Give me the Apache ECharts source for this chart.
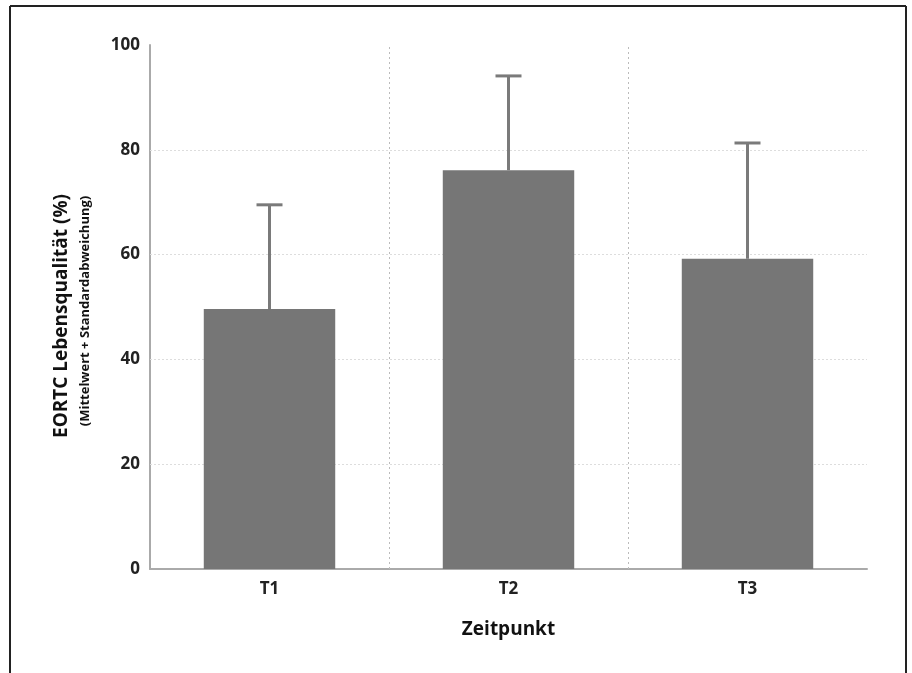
<!DOCTYPE html>
<html><head><meta charset="utf-8">
<script src="https://cdn.jsdelivr.net/npm/echarts@6/dist/echarts.min.js"></script>
<style>html,body{margin:0;padding:0;background:#fff;}#c{width:912px;height:673px;}</style>
</head><body><div id="c"></div>
<script>
var categories = ['T1', 'T2', 'T3'];
var means = [49.6, 76.1, 59.2];
var sdUpper = [69.5, 94.1, 81.3];
var yTicks = [0, 20, 40, 60, 80, 100];
var gridValues = [20, 40, 60, 80];
var separators = [1, 2];

var chart = echarts.init(document.getElementById('c'));
var FONT = '"Open Sans", "Noto Sans", sans-serif';
chart.setOption({
  animation: false,
  backgroundColor: '#fff',
  grid: {left: 150, right: 45, top: 45, bottom: 104},
  xAxis: [{
    type: 'category', data: categories,
    axisLine: {lineStyle: {color: '#aaa', width: 2}},
    axisTick: {show: false},
    axisLabel: {color: '#222', fontSize: 17, fontWeight: 'bold', fontFamily: FONT, margin: 12},
    splitLine: {show: false},
    name: 'Zeitpunkt', nameLocation: 'middle', nameGap: 51,
    nameTextStyle: {color: '#111', fontSize: 19, fontWeight: 'bold', fontFamily: FONT}
  }, {
    type: 'value', min: 0, max: 3, show: false
  }],
  yAxis: {
    type: 'value', min: 0, max: 100, interval: 20,
    axisLine: {show: true, lineStyle: {color: '#aaa', width: 2}},
    axisTick: {show: false},
    splitLine: {show: false},
    axisLabel: {color: '#222', fontSize: 17, fontWeight: 'bold', fontFamily: FONT, margin: 10,
      formatter: function (v) { return yTicks.indexOf(v) >= 0 ? String(v) : ''; }}
  },
  graphic: [
    {type: 'line', shape: {x1: 10, y1: 6, x2: 906, y2: 6}, style: {stroke: '#222', lineWidth: 2}},
    {type: 'line', shape: {x1: 10, y1: 6, x2: 10, y2: 673}, style: {stroke: '#222', lineWidth: 2}},
    {type: 'line', shape: {x1: 906, y1: 6, x2: 906, y2: 673}, style: {stroke: '#222', lineWidth: 2}},
    {type: 'text', x: 62, y: 316, rotation: Math.PI / 2,
      style: {text: 'EORTC Lebensqualität (%)', fill: '#111', font: 'bold 19px ' + FONT, align: 'center', verticalAlign: 'middle'}},
    {type: 'text', x: 85, y: 311, rotation: Math.PI / 2,
      style: {text: '(Mittelwert + Standardabweichung)', fill: '#111', font: 'bold 13px ' + FONT, align: 'center', verticalAlign: 'middle'}}
  ],
  series: [
    {
      type: 'scatter', xAxisIndex: 1, data: [[0, 0]], symbolSize: 0, silent: true, z: 1,
      markLine: {
        silent: true, symbol: 'none', label: {show: false}, z: 1,
        data: gridValues.map(function (v) {
          return {yAxis: v, lineStyle: {color: '#ddd', type: [2, 2], width: 1}};
        }).concat(separators.map(function (v) {
          return {xAxis: v, lineStyle: {color: '#bbb', type: [2, 3], width: 1}};
        }))
      }
    },
    {
      type: 'bar', data: means, barWidth: '55%',
      itemStyle: {color: '#767676'},
      z: 2
    },
    {
      type: 'custom', z: 3,
      data: categories.map(function (c, i) { return [i, means[i], sdUpper[i]]; }),
      renderItem: function (params, api) {
        var x = api.value(0);
        var p0 = api.coord([x, api.value(1)]);
        var p1 = api.coord([x, api.value(2)]);
        var hw = 13;
        var st = {stroke: '#7a7a7a', lineWidth: 3};
        return {type: 'group', children: [
          {type: 'line', shape: {x1: p0[0], y1: p0[1], x2: p1[0], y2: p1[1]}, style: st},
          {type: 'line', shape: {x1: p1[0] - hw, y1: p1[1], x2: p1[0] + hw, y2: p1[1]}, style: st}
        ]};
      }
    }
  ]
});
</script></body></html>
